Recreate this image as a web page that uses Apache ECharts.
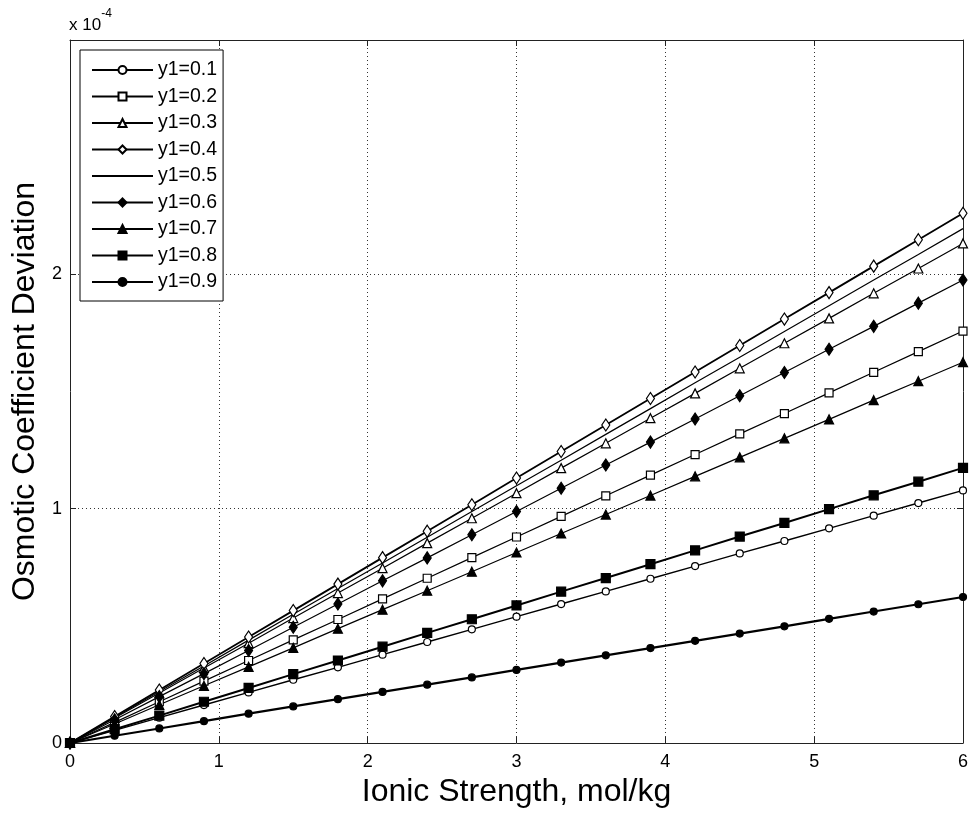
<!DOCTYPE html>
<html>
<head>
<meta charset="utf-8">
<script src="https://cdn.jsdelivr.net/npm/echarts@6/dist/echarts.min.js"></script>
<style>
  html, body { margin: 0; padding: 0; background: #fff; }
  #chart { width: 971px; height: 813px; }
</style>
</head>
<body>
<div id="chart"></div>
<script>
// Ionic strength, mol/kg
const ionicStrength = [0, 0.3, 0.6, 0.9, 1.2, 1.5, 1.8, 2.1, 2.4, 2.7, 3.0, 3.3, 3.6, 3.9, 4.2, 4.5, 4.8, 5.1, 5.4, 5.7, 6.0];

// Osmotic coefficient deviation, in units of 1e-4, one list per y1
const y1_01 = [0, 0.054, 0.108, 0.162, 0.216, 0.270, 0.323, 0.377, 0.431, 0.485, 0.539, 0.593, 0.647, 0.701, 0.755, 0.809, 0.862, 0.916, 0.970, 1.024, 1.078];
const y1_02 = [0, 0.088, 0.176, 0.264, 0.352, 0.440, 0.527, 0.615, 0.703, 0.791, 0.879, 0.967, 1.055, 1.143, 1.231, 1.319, 1.406, 1.494, 1.582, 1.670, 1.758];
const y1_03 = [0, 0.107, 0.213, 0.320, 0.426, 0.533, 0.640, 0.746, 0.853, 0.959, 1.066, 1.173, 1.279, 1.386, 1.492, 1.599, 1.706, 1.812, 1.919, 2.025, 2.132];
const y1_04 = [0, 0.113, 0.226, 0.339, 0.452, 0.565, 0.678, 0.791, 0.904, 1.017, 1.131, 1.244, 1.357, 1.470, 1.583, 1.696, 1.809, 1.922, 2.035, 2.148, 2.261];
const y1_05 = [0, 0.110, 0.220, 0.329, 0.439, 0.549, 0.659, 0.768, 0.878, 0.988, 1.098, 1.207, 1.317, 1.427, 1.537, 1.646, 1.756, 1.866, 1.976, 2.085, 2.195];
const y1_06 = [0, 0.099, 0.198, 0.296, 0.395, 0.494, 0.593, 0.692, 0.790, 0.889, 0.988, 1.087, 1.186, 1.284, 1.383, 1.482, 1.581, 1.680, 1.778, 1.877, 1.976];
const y1_07 = [0, 0.081, 0.163, 0.244, 0.325, 0.406, 0.488, 0.569, 0.650, 0.731, 0.813, 0.894, 0.975, 1.056, 1.138, 1.219, 1.300, 1.381, 1.463, 1.544, 1.625];
const y1_08 = [0, 0.059, 0.117, 0.176, 0.235, 0.294, 0.352, 0.411, 0.470, 0.528, 0.587, 0.646, 0.704, 0.763, 0.822, 0.881, 0.939, 0.998, 1.057, 1.115, 1.174];
const y1_09 = [0, 0.031, 0.062, 0.093, 0.125, 0.156, 0.187, 0.218, 0.249, 0.280, 0.312, 0.343, 0.374, 0.405, 0.436, 0.467, 0.498, 0.530, 0.561, 0.592, 0.623];

const seriesNames = ['y1=0.1', 'y1=0.2', 'y1=0.3', 'y1=0.4', 'y1=0.5', 'y1=0.6', 'y1=0.7', 'y1=0.8', 'y1=0.9'];
const seriesValues = [y1_01, y1_02, y1_03, y1_04, y1_05, y1_06, y1_07, y1_08, y1_09];

// x-axis tick labels and y-axis tick labels
const xTicks = [0, 1, 2, 3, 4, 5, 6];
const yTicks = [0, 1, 2];

const FONT = 'Liberation Sans, Arial, Helvetica, sans-serif';

// marker styling per series: [symbol, size, filled, lineWidth]
const markerStyles = [
  ['circle', 7, false, 1.4],
  ['rect', 8, false, 1.2],
  ['triangle', 9, false, 1.2],
  ['diamond', [8, 12], false, 1.8],
  ['none', 0, false, 1.2],
  ['diamond', [8, 12], true, 1.2],
  ['triangle', 9, true, 1.2],
  ['rect', 9, true, 2],
  ['circle', 7, true, 2.2]
];

const series = seriesNames.map((name, i) => {
  const [sym, size, filled, lw] = markerStyles[i];
  return {
    name: name,
    type: 'line',
    xAxisIndex: 0,
    yAxisIndex: 0,
    data: ionicStrength.map((x, k) => [x, seriesValues[i][k]]),
    symbol: sym,
    symbolSize: size,
    showSymbol: sym !== 'none',
    showAllSymbol: true,
    animation: false,
    lineStyle: { color: '#000', width: lw },
    itemStyle: {
      color: filled ? '#000' : '#fff',
      borderColor: '#000',
      borderWidth: 1.2
    },
    emphasis: { disabled: true },
    z: 3
  };
});

// legend entries; the plain line gets no marker in its key
const legendData = seriesNames.map((name, i) =>
  markerStyles[i][0] === 'none' ? { name: name, itemStyle: { opacity: 0 } } : { name: name }
);

const chart = echarts.init(document.getElementById('chart'), null, { renderer: 'canvas' });

const axisCommon = {
  min: 0,
  axisLine: { show: true, onZero: false, lineStyle: { color: '#222', width: 1 } },
  axisTick: { show: true, inside: true, length: 6, lineStyle: { color: '#222' } }
};

chart.setOption({
  backgroundColor: '#fff',
  animation: false,
  grid: { left: 70, right: 8, top: 40, bottom: 70, containLabel: false },
  legend: {
    data: legendData,
    orient: 'vertical',
    left: 80,
    top: 50,
    padding: [10, 6, 9, 11],
    itemWidth: 61,
    itemHeight: 10,
    itemGap: 6.5,
    backgroundColor: '#fff',
    borderColor: '#000',
    borderWidth: 1,
    borderRadius: 0,
    selectedMode: false,
    textStyle: { fontFamily: FONT, fontSize: 19.5, color: '#000', lineHeight: 20 },
    z: 10
  },
  xAxis: [
    Object.assign({}, axisCommon, {
      type: 'value',
      max: 6,
      interval: 1,
      position: 'bottom',
      name: 'Ionic Strength, mol/kg',
      nameLocation: 'middle',
      nameGap: 32,
      nameTextStyle: { fontFamily: FONT, fontSize: 32, color: '#000' },
      axisLabel: {
        fontFamily: FONT, fontSize: 18, color: '#000', margin: 10,
        formatter: v => xTicks.includes(v) ? String(v) : ''
      },
      splitLine: { show: true, lineStyle: { color: '#333', type: [1, 3], width: 1 } }
    }),
    Object.assign({}, axisCommon, {
      type: 'value',
      max: 6,
      interval: 1,
      position: 'top',
      axisLabel: { show: false },
      splitLine: { show: false }
    })
  ],
  yAxis: [
    Object.assign({}, axisCommon, {
      type: 'value',
      max: 3,
      interval: 1,
      position: 'left',
      name: 'Osmotic Coefficient Deviation',
      nameLocation: 'middle',
      nameGap: 18,
      nameTextStyle: { fontFamily: FONT, fontSize: 32, color: '#000' },
      axisLabel: {
        fontFamily: FONT, fontSize: 18, color: '#000', margin: 8,
        showMaxLabel: false,
        formatter: v => yTicks.includes(v) ? String(v) : ''
      },
      splitLine: { show: true, lineStyle: { color: '#333', type: [1, 3], width: 1 } }
    }),
    Object.assign({}, axisCommon, {
      type: 'value',
      max: 3,
      interval: 1,
      position: 'right',
      axisLabel: { show: false },
      splitLine: { show: false }
    })
  ],
  graphic: [
    {
      type: 'text',
      left: 69,
      top: 8,
      style: {
        text: '{base|x 10}{sup|-4}',
        rich: {
          base: { fontFamily: FONT, fontSize: 17, fill: '#000', padding: [9, 0, 0, 0] },
          sup: { fontFamily: FONT, fontSize: 12, fill: '#000', verticalAlign: 'top', padding: [0, 0, 9, 0] }
        }
      }
    }
  ],
  series: series
});
</script>
</body>
</html>
